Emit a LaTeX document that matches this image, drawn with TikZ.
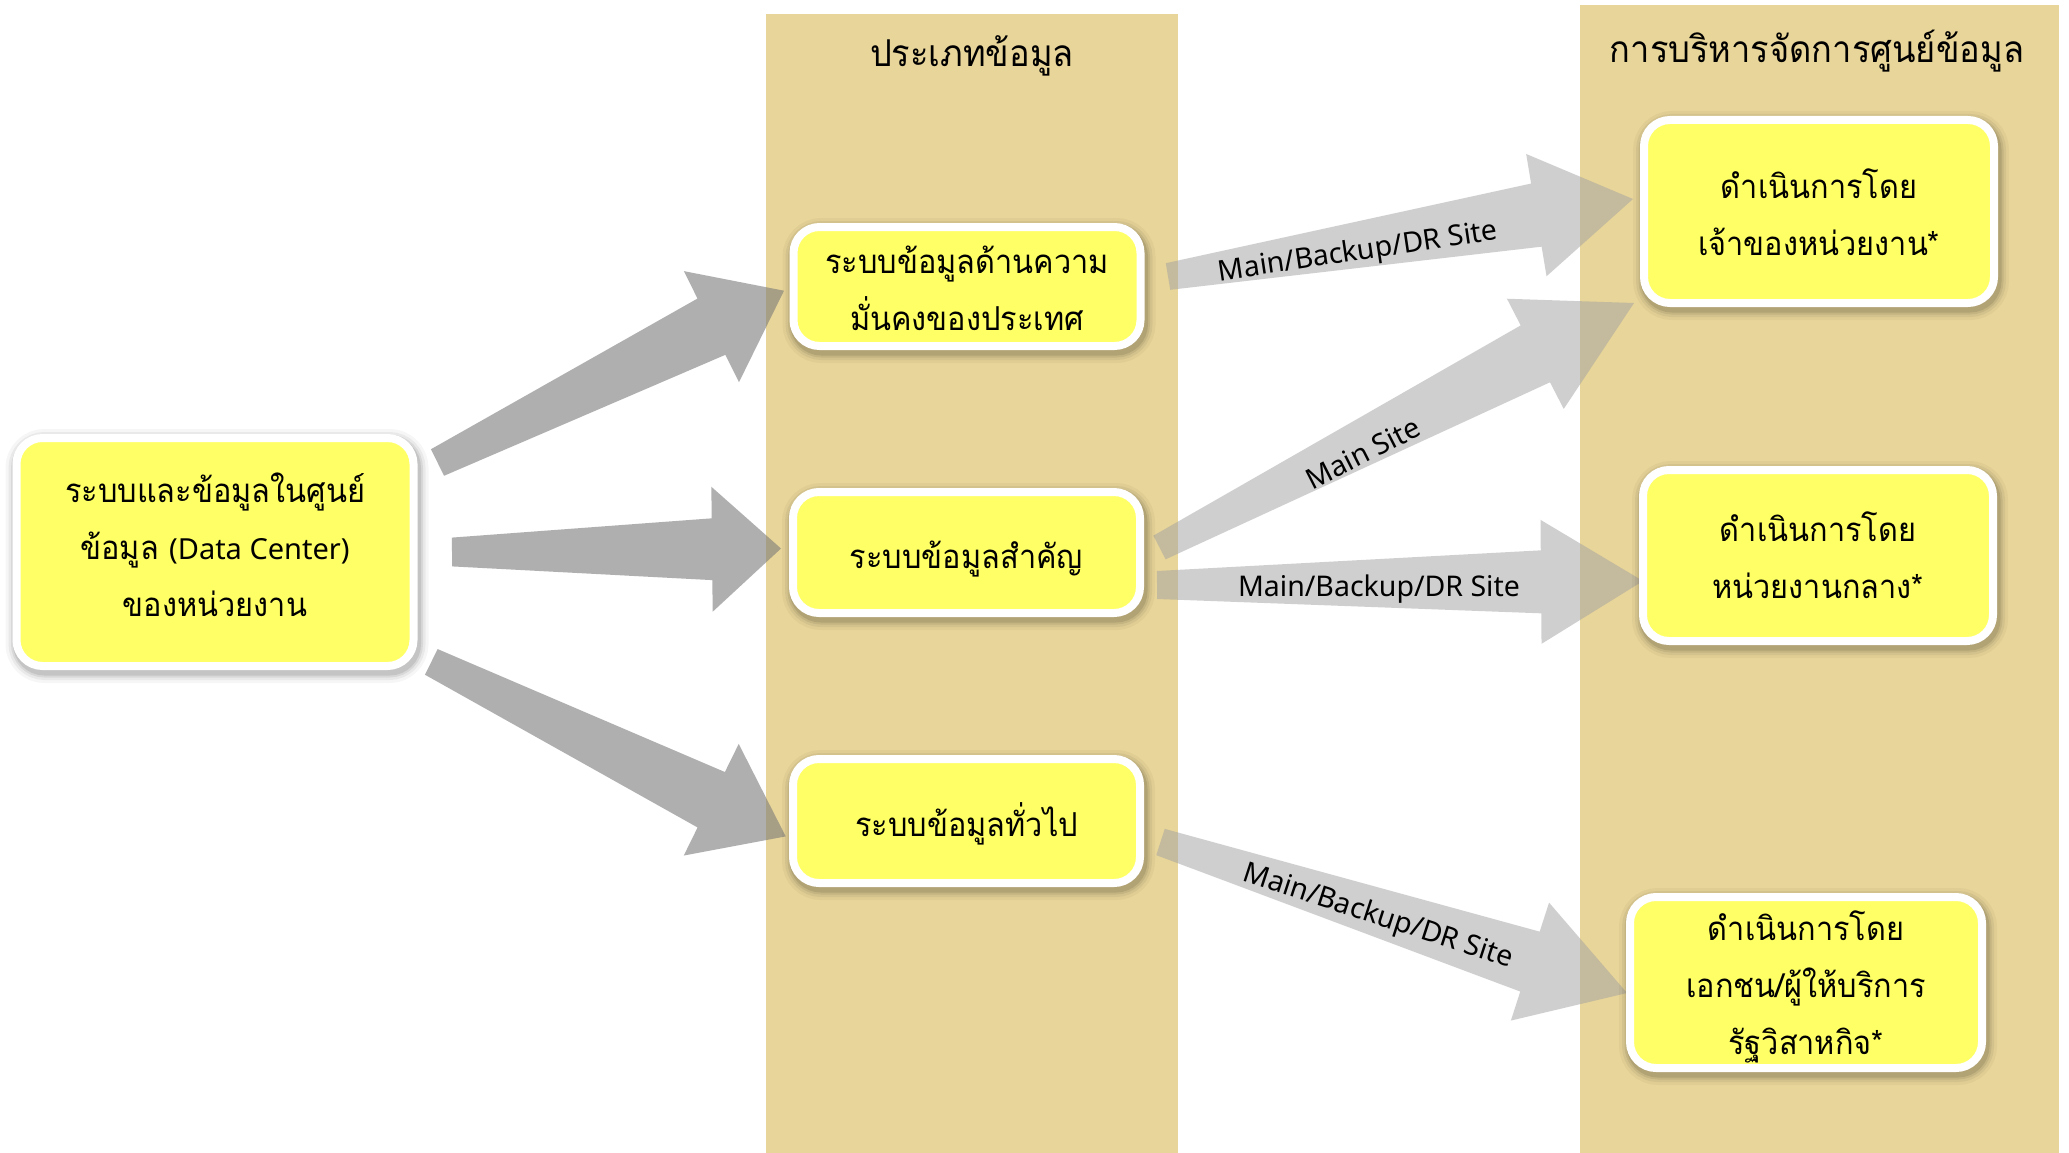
\documentclass[tikz,border=0pt]{standalone}
\usepackage{fontspec}
\newfontfamily\thai[Script=Thai, FakeStretch=0.93]{Loma}
\newfontfamily\lat{Noto Sans}
\usetikzlibrary{calc}
\definecolor{band}{RGB}{232,213,153}
\definecolor{boxyellow}{RGB}{255,255,102}
\newcommand\tlines[2]{\raisebox{#1}[\height][\depth]{\begin{tabular}{@{}c@{}}#2\end{tabular}}}
\tikzset{
  softshadow/.style={
    preaction={draw=black, draw opacity=0.035, line width=26pt, transform canvas={xshift=2pt,yshift=-4pt}},
    preaction={draw=black, draw opacity=0.05, line width=20pt, transform canvas={xshift=2pt,yshift=-4pt}},
    preaction={draw=black, draw opacity=0.07, line width=15pt, transform canvas={xshift=2pt,yshift=-4pt}},
    preaction={draw=black, draw opacity=0.09, line width=11pt, transform canvas={xshift=2pt,yshift=-4pt}}},
  box/.style={rectangle, rounded corners=26pt, draw=white, line width=8pt, fill=boxyellow,
    inner sep=0pt, text=black, softshadow,
    font={\thai\fontsize{33pt}{57pt}\selectfont}},
  header/.style={font={\thai\fontsize{37pt}{40pt}\selectfont}, anchor=base, inner sep=0pt},
  lbl/.style={font={\lat\fontsize{28.5pt}{32pt}\selectfont}, inner sep=0pt, text=black},
  darkarrow/.style={fill=black!53, fill opacity=0.59},
  lightarrow/.style={fill=black!37, fill opacity=0.5},
}
% #1 style, #2 tail, #3 tip, #4 half tail width, #5 half neck width, #6 half head width, #7 head length
\newcommand\blockarrow[7]{%
  \coordinate (#2-h) at ($(#3)!#7!(#2)$);
  \fill[#1] ($(#2)!#4!90:(#3)$) -- ($(#2-h)!#5!-90:(#2)$) -- ($(#2-h)!#6!-90:(#2)$) -- (#3)
    -- ($(#2-h)!#6!90:(#2)$) -- ($(#2-h)!#5!90:(#2)$) -- ($(#2)!#4!-90:(#3)$) -- cycle;
}
\begin{document}
\begin{tikzpicture}[x=1pt,y=-1pt]
\useasboundingbox (0,0) rectangle (2069,1153);
\fill[white] (0,0) rectangle (2069,1153);
% bands
\fill[band] (766,14) rectangle (1178,1153);
\fill[band] (1580,5) rectangle (2059,1153);
\node[header] (h1) at (972,67) {ประเภทข้อมูล};
\node[header] (h2) at (1817,63) {การบริหารจัดการศูนย์ข้อมูล};

% arrow end points
\coordinate (a1t) at (437.5,462.5);  \coordinate (a1p) at (784,290.7);
\coordinate (a2t) at (452,552);      \coordinate (a2p) at (781,548.5);
\coordinate (a3t) at (431.3,661.9);  \coordinate (a3p) at (785.7,836.4);
\coordinate (r1t) at (1168,276.5);   \coordinate (r1p) at (1633,199);
\coordinate (r2t) at (1159.5,547.5); \coordinate (r2p) at (1634,303);
\coordinate (r3t) at (1157,585);     \coordinate (r3p) at (1643,581);
\coordinate (r4t) at (1160.5,842);   \coordinate (r4p) at (1627,993);

\blockarrow{darkarrow}{a1t}{a1p}{14.8pt}{31.4pt}{62pt}{81pt}
\blockarrow{darkarrow}{a2t}{a2p}{14.4pt}{30.9pt}{62.5pt}{69pt}
\blockarrow{darkarrow}{a3t}{a3p}{14.3pt}{30.9pt}{62.2pt}{83pt}
\blockarrow{lightarrow}{r1t}{r1p}{13.5pt}{32pt}{62pt}{98pt}
\blockarrow{lightarrow}{r2t}{r2p}{13.3pt}{32pt}{62pt}{111pt}
\blockarrow{lightarrow}{r3t}{r3p}{14pt}{31.5pt}{62pt}{102pt}
\blockarrow{lightarrow}{r4t}{r4p}{13.8pt}{31.5pt}{62pt}{102pt}

\node[lbl, rotate=8.5] (l1) at (1358,253) {Main/Backup/DR Site};
\node[lbl, rotate=27] (l2) at (1363,453) {Main Site};
\node[lbl] (l3) at (1379,589) {Main/Backup/DR Site};
\node[lbl, rotate=-18] (l4) at (1378,917) {Main/Backup/DR Site};

% boxes
\node[box, minimum width=397pt, minimum height=228pt] (src) at (215,552)
  {\tlines{4pt}{ระบบและข้อมูลในศูนย์\\ข้อมูล {\lat\fontsize{29pt}{57pt}\selectfont (Data Center)}\\ของหน่วยงาน}};
\node[box, minimum width=347pt, minimum height=119pt] (sec) at (967,286.5)
  {\tlines{-4pt}{ระบบข้อมูลด้านความ\\มั่นคงของประเทศ}};
\node[box, minimum width=347pt, minimum height=121pt] (imp) at (966.5,552.5)
  {\tlines{-5pt}{ระบบข้อมูลสำคัญ}};
\node[box, minimum width=347pt, minimum height=124pt] (gen) at (966.5,821)
  {\tlines{-4pt}{ระบบข้อมูลทั่วไป}};
\node[box, minimum width=350pt, minimum height=183pt] (own) at (1819,211.5)
  {\tlines{-4pt}{ดำเนินการโดย\\เจ้าของหน่วยงาน*}};
\node[box, minimum width=350pt, minimum height=171pt] (cen) at (1818,555.5)
  {\tlines{-3pt}{ดำเนินการโดย\\หน่วยงานกลาง*}};
\node[box, minimum width=352pt, minimum height=171pt] (pri) at (1806,982.5)
  {\tlines{-4pt}{ดำเนินการโดย\\เอกชน/ผู้ให้บริการ\\รัฐวิสาหกิจ*}};
\end{tikzpicture}
\end{document}
